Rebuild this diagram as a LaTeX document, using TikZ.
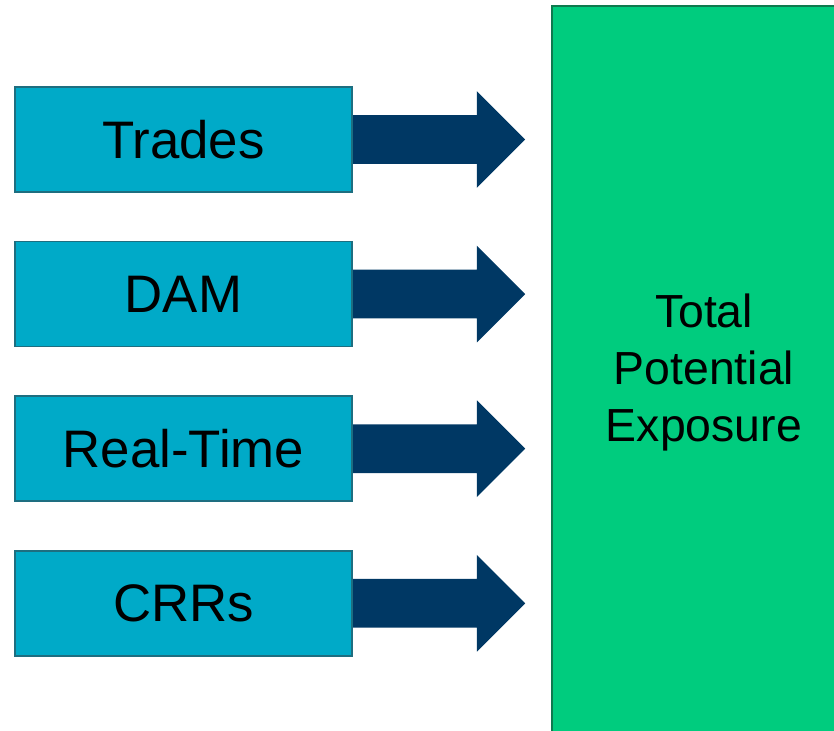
\documentclass[tikz,border=0pt]{standalone}
\usepackage{fontspec}
\setmainfont{Liberation Sans}
\usetikzlibrary{positioning, shapes.arrows}

\definecolor{srcfill}{RGB}{0,170,200}
\definecolor{srcline}{RGB}{30,110,128}
\definecolor{arrowblue}{RGB}{0,56,100}
\definecolor{totfill}{RGB}{0,204,126}
\definecolor{totline}{RGB}{14,122,78}

\begin{document}
\begin{tikzpicture}[
    x=0.5pt,
    y=-0.5pt,
    node distance=24pt,
    source/.style={rectangle, draw=srcline, fill=srcfill, line width=0.8pt,
      minimum width=168.5pt, minimum height=52.5pt, inner sep=0pt,
      font=\fontsize{26.4}{30}\selectfont},
    blockarrow/.style={single arrow, fill=arrowblue, inner xsep=0pt, inner ysep=12pt,
      minimum height=86pt,
      single arrow head extend=12pt, single arrow tip angle=90},
    total/.style={rectangle, draw=totline, fill=totfill, line width=1pt,
      minimum width=152pt, minimum height=367pt, align=center,
      font=\fontsize{23.2}{28.5}\selectfont}
  ]
  \useasboundingbox (0,0) rectangle (834,731);

  % --- TOTAL ---
  \node[total] (tpe) at (704,373) {Total\\Potential\\Exposure};

  % --- FONTES ---
  \node[source] (trades) at (183.5,139.5) {Trades};
  \node[source, below=of trades] (dam) {DAM};
  \node[source, below=of dam] (rt) {Real-Time};
  \node[source, below=of rt] (crr) {CRRs};

  % --- SETAS ---
  \foreach \src in {trades, dam, rt, crr}
    \node[blockarrow, anchor=tail, right=0pt of \src] (arr-\src) {};

\end{tikzpicture}
\end{document}
